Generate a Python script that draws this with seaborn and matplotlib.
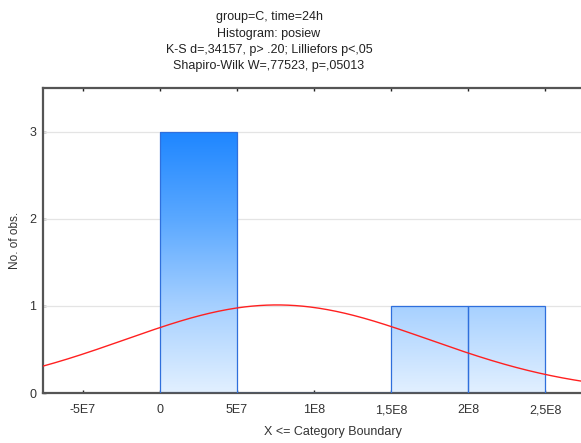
import numpy as np
import pandas as pd
import matplotlib
matplotlib.use('Agg')
import matplotlib.pyplot as plt
import seaborn as sns

# histogram data
bin_edges = [0, 5e7, 1e8, 1.5e8, 2e8, 2.5e8]
bin_counts = [3, 0, 0, 1, 1]
n_obs = 5
fit_mean = 7.6e7
fit_sd = 9.87e7

xtick_vals = [-5e7, 0, 5e7, 1e8, 1.5e8, 2e8, 2.5e8]
xtick_labels = ['-5E7', '0', '5E7', '1E8', '1,5E8', '2E8', '2,5E8']
ytick_vals = [0, 1, 2, 3]

titles = ['group=C, time=24h', 'Histogram: posiew',
          'K-S d=,34157, p> .20; Lilliefors p<,05',
          'Shapiro-Wilk W=,77523, p=,05013']

sns.set_style('white')
plt.rcParams['font.family'] = ['Liberation Sans', 'DejaVu Sans']

W, H = 581, 443
fig = plt.figure(figsize=(W / 100, H / 100), dpi=100)
x_lo, x_hi = -7.6e7, 3.0e8
px_per_unit = 77 / 5e7
ax_w = (x_hi - x_lo) * px_per_unit
ax = fig.add_axes([43 / W, 50 / H, ax_w / W, 305 / H])

centers = [(a + b) / 2 for a, b in zip(bin_edges[:-1], bin_edges[1:])]
df = pd.DataFrame({'x': centers, 'w': bin_counts})
sns.histplot(data=df, x='x', weights='w', bins=bin_edges, ax=ax,
             color='none', edgecolor='#2f6fdc', linewidth=0.9, alpha=1, zorder=3)

ax.set_xlim(x_lo, x_hi)
ax.set_ylim(0, 3.5)

# vertical gradient clipped to each bar
grad = np.linspace(0, 1, 256).reshape(-1, 1)
cmap = matplotlib.colors.LinearSegmentedColormap.from_list(
    'g', ['#e2f0ff', '#a6d0ff', '#5aa8ff', '#1e86ff'])
for p in list(ax.patches):
    if p.get_height() <= 0:
        continue
    im = ax.imshow(grad, cmap=cmap, aspect='auto', origin='lower',
                   extent=[x_lo, x_hi, 0, 3], zorder=2, interpolation='bicubic')
    im.set_clip_path(p)

# fitted normal curve (expected counts)
xs = np.linspace(x_lo, x_hi, 400)
bw = bin_edges[1] - bin_edges[0]
ys = n_obs * bw / (fit_sd * np.sqrt(2 * np.pi)) * np.exp(-0.5 * ((xs - fit_mean) / fit_sd) ** 2)
ax.plot(xs, ys, color='#ff2020', lw=1.0, zorder=4, clip_on=True)

for yv in [1, 2, 3]:
    ax.axhline(yv, color='#e4e4e4', lw=0.9, zorder=1)

ax.set_xticks(xtick_vals)
ax.set_xticklabels(xtick_labels)
ax.set_yticks(ytick_vals)
ax.tick_params(direction='in', length=2.5, width=1, colors='#222222',
               labelsize=9, labelcolor='#333333', top=True, bottom=True, left=True)
ax.tick_params(axis='x', pad=8)
ax.tick_params(axis='y', pad=5)
for s in ['left', 'bottom', 'top']:
    ax.spines[s].set_color('#555555')
    ax.spines[s].set_linewidth(1.6)
ax.spines['right'].set_visible(False)

ax.set_xlabel('X <= Category Boundary', fontsize=9, color='#333333', labelpad=7)
ax.set_ylabel('No. of obs.', fontsize=8.5, color='#333333')
ax.yaxis.set_label_coords(-22 / ax_w, 0.5)

for i, t in enumerate(titles):
    fig.text(269 / W, 1 - (17 + i * 16.5) / H, t, ha='center', va='center',
             fontsize=9, color='#222222')

fig.savefig('out.png', dpi=100)
